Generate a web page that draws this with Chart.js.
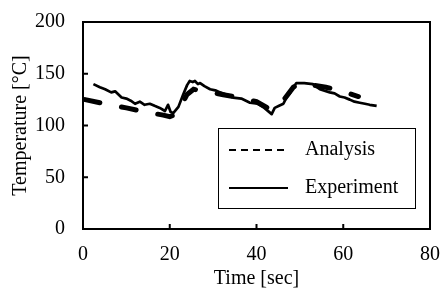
<!DOCTYPE html>
<html>
<head>
<meta charset="utf-8">
<script src="https://cdn.jsdelivr.net/npm/chart.js@4.4.1/dist/chart.umd.min.js"></script>
<style>
  html, body { margin: 0; padding: 0; background: #fff; }
  #wrap { width: 443px; height: 288px; }
</style>
</head>
<body>
<div id="wrap"><canvas id="c" width="443" height="288"></canvas></div>
<script>
// --- datos ---
const xTicks = [0, 20, 40, 60, 80];
const yTicks = [0, 50, 100, 150, 200];

const anaTime = [0.5, 5, 10, 14.5, 18.5, 20, 21.5, 22.5, 24, 25.5, 28, 32, 36, 40, 43, 44, 46.5, 48.5, 50, 53, 56, 59, 63.5];
const anaTemp = [125, 121, 117, 113, 110, 108.5, 111, 118, 130, 135, 133, 130, 127, 123, 116, 118, 126, 137, 141, 139, 137, 134, 128];

const expTime = [2.4, 3.9, 5.1, 6.5, 7.4, 8.9, 10, 11, 12, 13.1, 14.2, 15.4, 16.5, 17.7, 18.9, 19.6, 20.2, 20.8, 22, 23.1, 24, 24.6, 25.3, 25.8, 26.5, 27, 28, 29.3, 30.5, 31.6, 33, 34.6, 36.5, 38.5, 40.3, 41.8, 43.5, 44.2, 45.2, 46.2, 46.9, 47.7, 48.5, 49.2, 51, 53, 54.6, 56.9, 58, 59.2, 60.3, 61.5, 62.6, 63.8, 65, 66.1, 67.7];
const expTemp = [140, 137, 135, 132, 133, 127, 126, 124, 121, 123, 120, 121, 119, 117, 114, 120, 113, 112, 118, 130, 139, 143, 142, 143, 140, 141, 138, 135, 134, 132, 130, 127, 126, 122, 121, 117, 111, 117, 119, 121, 127, 131, 137, 141, 141, 140, 135, 132, 131, 128, 127, 125, 123, 122, 121, 120, 119];

const serif = 'Liberation Serif';
const fs = 20;

// marco, marcas hacia dentro y leyenda con recuadro
const framePlugin = {
  id: 'frame',
  afterDraw(chart) {
    const ctx = chart.ctx;
    const a = chart.chartArea;
    const xs = chart.scales.x, ys = chart.scales.y;
    ctx.save();
    ctx.strokeStyle = '#000';
    ctx.lineWidth = 2;
    ctx.strokeRect(a.left, a.top, a.right - a.left, a.bottom - a.top);
    ctx.beginPath();
    xTicks.forEach(v => {
      const px = xs.getPixelForValue(v);
      ctx.moveTo(px, a.bottom); ctx.lineTo(px, a.bottom - 5);
    });
    yTicks.forEach(v => {
      const py = ys.getPixelForValue(v);
      ctx.moveTo(a.left, py); ctx.lineTo(a.left + 5, py);
    });
    ctx.stroke();

    // leyenda
    const bx = 218, by = 128, bw = 197, bh = 80;
    ctx.lineWidth = 1;
    ctx.strokeRect(bx + 0.5, by + 0.5, bw, bh);
    ctx.font = fs + 'px "' + serif + '"';
    ctx.textBaseline = 'middle';
    ctx.fillStyle = '#000';
    chart.data.datasets.forEach((ds, i) => {
      const yy = by + 22 + i * 38;
      ctx.beginPath();
      ctx.lineWidth = 2;
      ctx.setLineDash(i === 0 ? [7, 5] : []);
      ctx.moveTo(bx + 11, yy); ctx.lineTo(bx + 70, yy);
      ctx.stroke();
      ctx.setLineDash([]);
      ctx.fillText(ds.label, bx + 87, yy);
    });
    ctx.restore();
  }
};

new Chart(document.getElementById('c'), {
  type: 'scatter',
  data: {
    datasets: [
      {
        label: 'Analysis',
        data: anaTime.map((t, i) => ({x: t, y: anaTemp[i]})),
        showLine: true, pointRadius: 0, borderColor: '#000', borderWidth: 5,
        borderDash: [15, 22], borderCapStyle: 'round', tension: 0
      },
      {
        label: 'Experiment',
        data: expTime.map((t, i) => ({x: t, y: expTemp[i]})),
        showLine: true, pointRadius: 0, borderColor: '#000', borderWidth: 2.7,
        borderJoinStyle: 'round', tension: 0
      }
    ]
  },
  plugins: [framePlugin],
  options: {
    responsive: false,
    animation: false,
    layout: { padding: { top: 22, right: 13, left: 0, bottom: 0 } },
    plugins: { legend: { display: false }, tooltip: { enabled: false } },
    scales: {
      x: {
        type: 'linear', min: 0, max: 80,
        afterBuildTicks: s => { s.ticks = xTicks.map(v => ({value: v})); },
        afterFit: s => { s.height = 59; s.paddingLeft = 0; s.paddingRight = 0; },
        grid: { display: false, drawTicks: false },
        border: { display: false },
        ticks: { color: '#000', padding: 14, maxRotation: 0, font: { family: serif, size: fs } },
        title: { display: true, text: 'Time [sec]', color: '#000', padding: { top: 3, bottom: -3 }, font: { family: serif, size: fs } }
      },
      y: {
        type: 'linear', min: 0, max: 200,
        afterBuildTicks: s => { s.ticks = yTicks.map(v => ({value: v})); },
        afterFit: s => { s.width = 83; s.paddingTop = 0; s.paddingBottom = 0; },
        grid: { display: false, drawTicks: false },
        border: { display: false },
        ticks: { color: '#000', padding: 18, font: { family: serif, size: fs } },
        title: { display: true, text: 'Temperature [°C]', color: '#000', padding: { top: 9, bottom: 0 }, font: { family: serif, size: fs } }
      }
    }
  }
});
</script>
</body>
</html>
